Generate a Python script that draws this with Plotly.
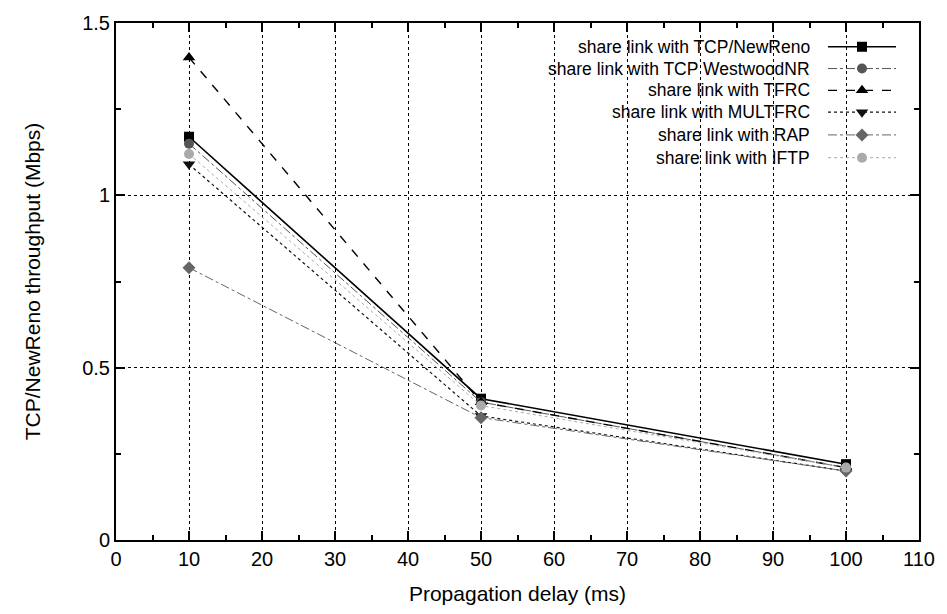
import plotly.graph_objects as go

delays = [10, 50, 100]
newreno = [1.17, 0.41, 0.22]
westwood = [1.15, 0.40, 0.21]
tfrc = [1.40, 0.40, 0.21]
multfrc = [1.09, 0.36, 0.20]
rap = [0.79, 0.355, 0.20]
iftp = [1.12, 0.39, 0.21]

names = ["share link with TCP/NewReno", "share link with TCP WestwoodNR",
         "share link with TFRC", "share link with MULTFRC",
         "share link with RAP", "share link with IFTP"]
series = [newreno, westwood, tfrc, multfrc, rap, iftp]
styles = [
    dict(color="#000000", dash="solid", width=1.6, symbol="square", msize=10),
    dict(color="#555555", dash="dashdot", width=1, symbol="circle", msize=10),
    dict(color="#000000", dash="dash", width=1.4, symbol="triangle-up", msize=11),
    dict(color="#111111", dash="dot", width=1.2, symbol="triangle-down", msize=11),
    dict(color="#666666", dash="dashdot", width=1, symbol="diamond", msize=10),
    dict(color="#aaaaaa", dash="dot", width=1, symbol="circle", msize=10),
]

fig = go.Figure()
for name, ys, st in zip(names, series, styles):
    fig.add_trace(go.Scatter(
        x=delays, y=ys, mode="lines+markers", name=name, showlegend=False,
        line=dict(color=st["color"], dash=st["dash"], width=st["width"]),
        marker=dict(symbol=st["symbol"], size=st["msize"], color=st["color"]),
    ))

# custom gnuplot-style legend (text right-aligned, sample on the right)
L, R, T, B = 116, 919, 19, 541
pw, ph = R - L, B - T
row_px = [43, 65, 87, 109, 132, 155]
for name, st, yp in zip(names, styles, row_px):
    yy = (B - yp) / ph
    fig.add_annotation(x=(812 - L) / pw, y=yy, xref="paper", yref="paper",
                       text=name, showarrow=False, xanchor="right", yanchor="middle",
                       font=dict(family="Liberation Sans, Arial", size=17.5, color="black"))
    fig.add_trace(go.Scatter(
        x=[(828 - L) / pw, (862 - L) / pw, (896 - L) / pw], y=[yy, yy, yy],
        xaxis="x2", yaxis="y2", mode="lines", showlegend=False, hoverinfo="skip",
        line=dict(color=st["color"], dash=st["dash"], width=st["width"])))
    fig.add_trace(go.Scatter(
        x=[(862 - L) / pw], y=[yy], xaxis="x2", yaxis="y2", mode="markers",
        showlegend=False, hoverinfo="skip",
        marker=dict(symbol=st["symbol"], size=st["msize"], color=st["color"])))

tickfont = dict(family="Liberation Sans, Arial", size=20, color="black")
titlefont = dict(family="Liberation Sans, Arial", size=21, color="black")
fig.update_layout(
    width=947, height=614,
    margin=dict(l=L, r=947 - R, t=T, b=614 - B),
    paper_bgcolor="white", plot_bgcolor="white",
    font=tickfont,
    xaxis=dict(range=[0, 110], dtick=10, tick0=0, showline=True, linecolor="black",
               linewidth=2, mirror="ticks", ticks="inside", ticklen=9, tickwidth=2,
               tickcolor="black", showgrid=True, gridcolor="black", griddash="dot",
               gridwidth=1, zeroline=False, tickfont=tickfont,
               minor=dict(dtick=5, ticks="inside", ticklen=5, tickwidth=2,
                          tickcolor="black", showgrid=False),
               title=dict(text="Propagation delay (ms)", font=titlefont, standoff=17)),
    yaxis=dict(range=[0, 1.5], dtick=0.5, tick0=0, showline=True, linecolor="black",
               linewidth=2, mirror="ticks", ticks="inside", ticklen=9, tickwidth=2,
               tickcolor="black", showgrid=True, gridcolor="black", griddash="dot",
               gridwidth=1, zeroline=False, tickfont=tickfont,
               minor=dict(dtick=0.25, ticks="inside", ticklen=5, tickwidth=2,
                          tickcolor="black", showgrid=False),
               title=dict(text="TCP/NewReno throughput (Mbps)", font=titlefont, standoff=36)),
    xaxis2=dict(range=[0, 1], overlaying="x", visible=False, fixedrange=True),
    yaxis2=dict(range=[0, 1], overlaying="y", visible=False, fixedrange=True),
)

fig.write_html("out.html")
